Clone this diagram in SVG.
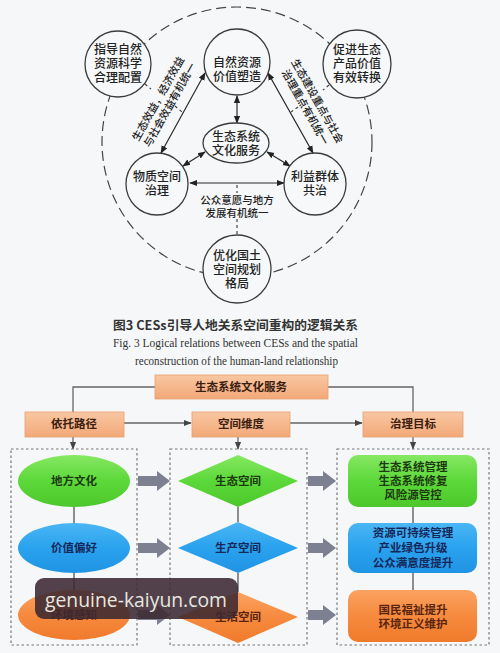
<svg xmlns="http://www.w3.org/2000/svg" width="500" height="653" viewBox="0 0 500 653">
<defs>
<style>
.cn{font-family:"Noto Sans CJK SC","Liberation Sans",sans-serif;}
.nt{font-size:12px;fill:#222;text-anchor:middle;font-weight:500;}
.lb{font-size:10.5px;fill:#222;text-anchor:middle;font-weight:500;}
.circ{fill:#f6f8f9;stroke:#3c3c3c;stroke-width:1.3;}
.ln{stroke:#2a2a2a;stroke-width:1.2;fill:none;}
.dash{stroke:#444;stroke-width:1.2;fill:none;stroke-dasharray:3 3;}
.hdr{stroke:#e8a070;stroke-width:0.8;}
.ht{font-size:11.5px;font-weight:700;fill:#3a2010;text-anchor:middle;}
.ct{stroke:#666;stroke-width:1.3;fill:none;}
.box{fill:none;stroke:#777;stroke-width:1.2;stroke-dasharray:2.5 2.5;}
.gt{font-size:11.5px;font-weight:700;fill:#1d3a10;text-anchor:middle;}
.bt{font-size:11.5px;font-weight:700;fill:#16285a;text-anchor:middle;}
.ot{font-size:11.5px;font-weight:700;fill:#5a2510;text-anchor:middle;}
.vl{stroke:#555;stroke-width:1.3;}
.ga{fill:#7c8090;}
</style>
<marker id="ah" viewBox="0 0 10 10" refX="9" refY="5" markerWidth="6.5" markerHeight="6.5" orient="auto-start-reverse"><path d="M0,1 L10,5 L0,9 z" fill="#222"/></marker>
<marker id="ah2" viewBox="0 0 10 10" refX="9" refY="5" markerWidth="6" markerHeight="6" orient="auto"><path d="M0,1 L10,5 L0,9 z" fill="#444"/></marker>
<linearGradient id="gHdr" x1="0" y1="0" x2="0" y2="1"><stop offset="0" stop-color="#f9c7a2"/><stop offset="1" stop-color="#f2a878"/></linearGradient>
<linearGradient id="gG" x1="0" y1="0" x2="0" y2="1"><stop offset="0" stop-color="#86e862"/><stop offset="0.5" stop-color="#5cd83a"/><stop offset="1" stop-color="#4cc82c"/></linearGradient>
<linearGradient id="gB" x1="0" y1="0" x2="0" y2="1"><stop offset="0" stop-color="#4ab6f4"/><stop offset="0.5" stop-color="#2aa2ee"/><stop offset="1" stop-color="#1f94e4"/></linearGradient>
<linearGradient id="gO" x1="0" y1="0" x2="0" y2="1"><stop offset="0" stop-color="#fba261"/><stop offset="0.5" stop-color="#f68a3e"/><stop offset="1" stop-color="#f07a2c"/></linearGradient>
</defs>
<rect width="500" height="653" fill="#f5f7f8"/>

<!-- top concept diagram -->
<g id="outer-ring"><circle cx="237" cy="142" r="135" fill="none" stroke="#444" stroke-width="1.2" stroke-dasharray="10 5"/></g>

<g id="connectors">
<line class="ln" x1="161" y1="153" x2="205" y2="73" marker-start="url(#ah)" marker-end="url(#ah)"/>
<line class="ln" x1="268" y1="73" x2="313" y2="153" marker-start="url(#ah)" marker-end="url(#ah)"/>
<line class="ln" x1="237" y1="96" x2="237" y2="123" marker-start="url(#ah)" marker-end="url(#ah)"/>
<line class="ln" x1="205" y1="152" x2="183" y2="166" marker-start="url(#ah)" marker-end="url(#ah)"/>
<line class="ln" x1="267" y1="152" x2="290" y2="166" marker-start="url(#ah)" marker-end="url(#ah)"/>
<line class="ln" x1="190" y1="183" x2="284" y2="183" marker-start="url(#ah)" marker-end="url(#ah)"/>
<line class="dash" x1="145" y1="84" x2="151" y2="89"/>
<line class="dash" x1="175" y1="106" x2="182" y2="112"/>
<line class="dash" x1="329" y1="85" x2="323" y2="90"/>
<line class="dash" x1="298" y1="107" x2="291" y2="112"/>
<line class="dash" x1="237" y1="185" x2="237" y2="193"/>
<line class="dash" x1="237" y1="219" x2="237" y2="236"/>
<g class="cn lb">
<text transform="translate(158,98.5) rotate(-60.6)" y="4">生态效益，经济效益</text>
<text transform="translate(169.5,104.8) rotate(-60.6)" y="4">与社会效益有机统一</text>
<text transform="translate(317.8,101) rotate(60.6)" y="4">生态建设重点与社会</text>
<text transform="translate(305.5,107) rotate(60.6)" y="4">治理重点有机统一</text>
<text x="237" y="204">公众意愿与地方</text>
<text x="237" y="217">发展有机统一</text>
</g>
</g>

<g id="n-guide"><circle class="circ" cx="118" cy="64" r="33"/>
<text class="cn nt" x="118" y="54">指导自然</text><text class="cn nt" x="118" y="68">资源科学</text><text class="cn nt" x="118" y="82">合理配置</text></g>
<g id="n-value"><circle class="circ" cx="237" cy="62" r="33"/>
<text class="cn nt" x="237" y="67">自然资源</text><text class="cn nt" x="237" y="81">价值塑造</text></g>
<g id="n-promote"><circle class="circ" cx="357" cy="64" r="34"/>
<text class="cn nt" x="357" y="54">促进生态</text><text class="cn nt" x="357" y="68">产品价值</text><text class="cn nt" x="357" y="82">有效转换</text></g>
<g id="n-ces"><ellipse class="circ" cx="236" cy="143" rx="33" ry="20"/>
<text class="cn nt" x="236" y="141">生态系统</text><text class="cn nt" x="236" y="155">文化服务</text></g>
<g id="n-material"><circle class="circ" cx="157" cy="184" r="31"/>
<text class="cn nt" x="157" y="181">物质空间</text><text class="cn nt" x="157" y="195">治理</text></g>
<g id="n-stake"><circle class="circ" cx="315" cy="184" r="31"/>
<text class="cn nt" x="315" y="181">利益群体</text><text class="cn nt" x="315" y="195">共治</text></g>
<g id="n-optimize"><circle class="circ" cx="237" cy="269" r="34"/>
<text class="cn nt" x="237" y="260">优化国土</text><text class="cn nt" x="237" y="274">空间规划</text><text class="cn nt" x="237" y="288">格局</text></g>

<!-- caption -->
<g id="caption">
<text class="cn" x="113" y="330" font-size="12.5" font-weight="700" fill="#333" textLength="245" lengthAdjust="spacingAndGlyphs">图3  CESs引导人地关系空间重构的逻辑关系</text>
<text x="113" y="347" font-family="Liberation Serif,serif" font-size="11.5" fill="#333" textLength="245" lengthAdjust="spacingAndGlyphs">Fig. 3  Logical relations between CESs and the spatial</text>
<text x="135" y="365" font-family="Liberation Serif,serif" font-size="11.5" fill="#333" textLength="203" lengthAdjust="spacingAndGlyphs">reconstruction of the human-land relationship</text>
</g>

<!-- bottom flowchart -->
<g id="flow-connectors">
<polyline class="ct" points="155,387 73,387 73,412"/>
<polyline class="ct" points="328,387 413,387 413,412"/>
<line class="ct" x1="124" y1="423" x2="191" y2="423" marker-end="url(#ah2)"/>
<line class="ct" x1="290" y1="423" x2="362" y2="423" marker-end="url(#ah2)"/>
<line class="ct" x1="73" y1="437" x2="73" y2="449" marker-end="url(#ah2)"/>
<line class="ct" x1="238" y1="437" x2="238" y2="449" marker-end="url(#ah2)"/>
<line class="ct" x1="413" y1="437" x2="413" y2="449" marker-end="url(#ah2)"/>
<line class="vl" x1="74" y1="507" x2="74" y2="523"/>
<line class="vl" x1="74" y1="573" x2="74" y2="590"/>
<line class="vl" x1="238" y1="507" x2="238" y2="522"/>
<line class="vl" x1="238" y1="573" x2="238" y2="592"/>
<line class="vl" x1="413" y1="507" x2="413" y2="523"/>
<line class="vl" x1="413" y1="573" x2="413" y2="590"/>
<path class="ga" d="M138,476 H157 V471 L170,481 L157,491 V486 H138 Z"/>
<path class="ga" d="M138,543 H157 V538 L170,548 L157,558 V553 H138 Z"/>
<path class="ga" d="M138,610 H157 V605 L170,615 L157,625 V620 H138 Z"/>
<path class="ga" d="M308,476 H323 V471 L336,481 L323,491 V486 H308 Z"/>
<path class="ga" d="M308,543 H323 V538 L336,548 L323,558 V553 H308 Z"/>
<path class="ga" d="M308,610 H323 V605 L336,615 L323,625 V620 H308 Z"/>
</g>

<g id="h-ces"><rect class="hdr" x="155" y="375" width="173" height="24" fill="url(#gHdr)"/><text class="cn ht" x="241" y="391">生态系统文化服务</text></g>
<g id="h-path"><rect class="hdr" x="25" y="412" width="99" height="25" fill="url(#gHdr)"/><text class="cn ht" x="74" y="428">依托路径</text></g>
<g id="h-space"><rect class="hdr" x="192" y="412" width="98" height="25" fill="url(#gHdr)"/><text class="cn ht" x="241" y="428">空间维度</text></g>
<g id="h-goal"><rect class="hdr" x="363" y="412" width="100" height="25" fill="url(#gHdr)"/><text class="cn ht" x="413" y="428">治理目标</text></g>

<g id="box-left"><rect class="box" x="11" y="449" width="126" height="196"/></g>
<g id="box-mid"><rect class="box" x="170" y="449" width="137" height="196"/></g>
<g id="box-right"><rect class="box" x="337" y="449" width="152" height="196"/></g>

<g id="e-culture"><ellipse cx="74" cy="481" rx="56" ry="26" fill="url(#gG)"/><text class="cn gt" x="74" y="485">地方文化</text></g>
<g id="e-pref"><ellipse cx="74" cy="548" rx="56" ry="25" fill="url(#gB)"/><text class="cn bt" x="74" y="552">价值偏好</text></g>
<g id="e-percept"><ellipse cx="74" cy="615" rx="56" ry="25" fill="url(#gO)"/><text class="cn ot" x="74" y="619">环境感知</text></g>

<g id="d-eco"><polygon points="178,481 238,455 298,481 238,507" fill="url(#gG)"/><text class="cn gt" x="238" y="485">生态空间</text></g>
<g id="d-prod"><polygon points="178,548 238,522 298,548 238,573" fill="url(#gB)"/><text class="cn bt" x="238" y="552">生产空间</text></g>
<g id="d-life"><polygon points="178,617 238,592 298,617 238,643" fill="url(#gO)"/><text class="cn ot" x="238" y="621">生活空间</text></g>

<g id="r-eco"><rect x="348" y="455" width="129" height="52" rx="10" fill="url(#gG)"/>
<text class="cn gt" x="413" y="471">生态系统管理</text><text class="cn gt" x="413" y="485">生态系统修复</text><text class="cn gt" x="413" y="499">风险源管控</text></g>
<g id="r-prod"><rect x="348" y="523" width="129" height="50" rx="10" fill="url(#gB)"/>
<text class="cn bt" x="413" y="537">资源可持续管理</text><text class="cn bt" x="413" y="552">产业绿色升级</text><text class="cn bt" x="413" y="567">公众满意度提升</text></g>
<g id="r-life"><rect x="348" y="590" width="129" height="52" rx="10" fill="url(#gO)"/>
<text class="cn ot" x="413" y="614">国民福祉提升</text><text class="cn ot" x="413" y="628">环境正义维护</text></g>

<g id="watermark"><rect x="35" y="578" width="203" height="41" rx="9" fill="#3b2831" fill-opacity="0.88"/>
<text x="45" y="607" font-family="Open Sans,sans-serif" font-size="20" fill="#e6e8e0" textLength="182" lengthAdjust="spacingAndGlyphs">genuine-kaiyun.com</text></g>
</svg>
